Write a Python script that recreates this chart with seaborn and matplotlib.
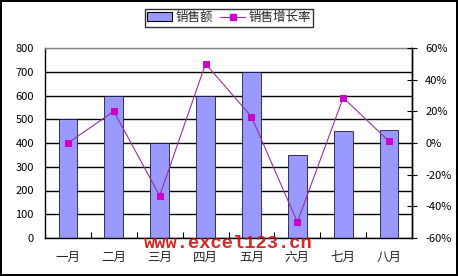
import matplotlib
matplotlib.use("Agg")
import matplotlib.pyplot as plt
import seaborn as sns
import pandas as pd
import numpy as np
from matplotlib.ticker import FuncFormatter, FixedLocator
from matplotlib.lines import Line2D
from matplotlib.patches import Patch

months = ["一月", "二月", "三月", "四月", "五月", "六月", "七月", "八月"]
sales = [500, 600, 400, 600, 700, 350, 450, 455]
growth = [0.0, 0.20, -0.333, 0.50, 0.167, -0.50, 0.286, 0.011]
left_ticks = [0, 100, 200, 300, 400, 500, 600, 700, 800]
right_ticks = [-0.6, -0.4, -0.2, 0.0, 0.2, 0.4, 0.6]

sns.set_theme(style="white")
plt.rcParams["font.family"] = ["Noto Sans CJK SC", "DejaVu Sans"]

df = pd.DataFrame({"month": months, "sales": sales, "growth": growth})

fig = plt.figure(figsize=(4.58, 2.76), dpi=100)
fig.patch.set_facecolor("white")
fig.patch.set_edgecolor("black")
fig.patch.set_linewidth(1.5)

ax = fig.add_axes([45/458, 38/276, 367/458, 190/276])
sns.barplot(data=df, x="month", y="sales", ax=ax, color="#9999FF",
            width=0.41, edgecolor="#1a1a40", linewidth=0.6, saturation=1)
ax.set_ylim(0, 800)
ax.set_xlim(-0.5, 7.5)
ax.set_yticks(left_ticks)
ax.yaxis.grid(True, color="black", linewidth=1.0)
ax.set_axisbelow(True)
gl = ax.get_ygridlines()
gl[-1].set_color("#888888")
ax.set_xlabel("")
ax.set_ylabel("")
ax.tick_params(axis="y", length=0, labelsize=8, pad=8, colors="black")
ax.tick_params(axis="x", which="major", length=0, labelsize=9, pad=9)
ax.xaxis.set_minor_locator(FixedLocator(np.arange(0.5, 7.5, 1.0)))
ax.tick_params(axis="x", which="minor", direction="in", length=4, width=0.8, color="black", bottom=True)
for s in ["left", "bottom", "right"]:
    ax.spines[s].set_color("black")
    ax.spines[s].set_linewidth(1.0)
ax.spines["top"].set_color("#888888")
ax.spines["top"].set_linewidth(1.0)

ax2 = ax.twinx()
sns.lineplot(data=df, x="month", y="growth", ax=ax2, sort=False, color="#993399",
             linewidth=0.8, marker="s", markersize=5, markerfacecolor="#CC00CC",
             markeredgecolor="#CC00CC")
ax2.set_ylim(-0.6, 0.6)
ax2.set_yticks(right_ticks)
ax2.yaxis.set_major_formatter(FuncFormatter(lambda v, p: f"{v*100:.0f}%"))
ax2.set_ylabel("")
ax2.set_xlabel("")
ax2.tick_params(axis="y", direction="inout", length=7, width=0.8, labelsize=8, pad=6, colors="black")
for s in ax2.spines.values():
    s.set_visible(False)
ax2.spines["right"].set_visible(True)
ax2.spines["right"].set_color("black")
ax2.spines["right"].set_linewidth(1.0)

handles = [Patch(facecolor="#9999FF", edgecolor="black", linewidth=0.8),
           Line2D([0], [0], color="#993399", linewidth=0.8, marker="s", markersize=5,
                  markerfacecolor="#CC00CC", markeredgecolor="#CC00CC")]
leg = fig.legend(handles, ["销售额", "销售增长率"], loc="center", bbox_to_anchor=(229/458, 1 - 17.5/276),
                 ncol=2, fontsize=9, frameon=True, fancybox=False, edgecolor="black",
                 handlelength=2.0, handleheight=0.7, columnspacing=0.6, handletextpad=0.25,
                 borderpad=0.2, borderaxespad=0)
leg.get_frame().set_linewidth(1.0)

fig.text(228/458, 1 - 243/276, "www.excel123.cn", color="#cc1111", fontsize=13.5,
         family="Liberation Mono", fontweight="bold", ha="center", va="center", alpha=0.9)

fig.savefig("out.png", dpi=100)
